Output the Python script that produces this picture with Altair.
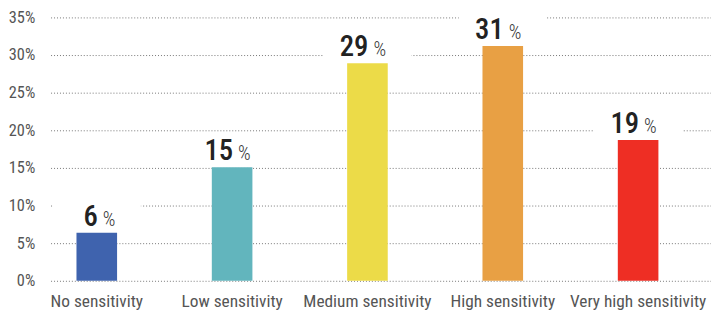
import altair as alt
import pandas as pd

categories = ["No sensitivity", "Low sensitivity", "Medium sensitivity",
              "High sensitivity", "Very high sensitivity"]
values = [6.4, 15.1, 28.9, 31.2, 18.7]
labels = ["6", "15", "29", "31", "19"]
colors = ["#3f63ae", "#62b5bd", "#ecdb48", "#e8a044", "#ee2e24"]
y_ticks = [0, 5, 10, 15, 20, 25, 30, 35]

df = pd.DataFrame({"cat": categories, "value": values, "label": labels, "color": colors})

FONT = "Roboto Condensed, DejaVu Sans Condensed, sans-serif"

x = alt.X("cat:N", sort=categories, title=None,
          scale=alt.Scale(paddingInner=0.7, paddingOuter=0.29, align=0.33),
          axis=alt.Axis(labelAngle=0, labelFont=FONT, labelFontSize=17.5, labelColor="#555555",
                        labelPadding=12, ticks=False, domain=False, labelLimit=300))
y = alt.Y("value:Q", title=None,
          scale=alt.Scale(domain=[0, 35], nice=False),
          axis=alt.Axis(values=y_ticks, labelExpr="datum.value + '%'", labelFont=FONT,
                        labelFontSize=16.5, labelColor="#555555",
                        labelPadding=16, ticks=False, domain=False, grid=True,
                        gridColor="#777777", gridDash=[1, 2], gridWidth=1))

base = alt.Chart(df)

mask = base.mark_bar(color="white", width=89, yOffset=-1, y2Offset=-32).encode(
    x=x, y=y, y2="value:Q")

bars = base.mark_bar().encode(
    x=x, y=y, color=alt.Color("color:N", scale=None))

num = base.mark_text(align="right", baseline="alphabetic", dx=1, dy=-7,
                     font=FONT, fontSize=29, fontWeight=500, color="#222222").encode(
    x=x, y=y, text="label:N")

pct = base.mark_text(align="left", baseline="alphabetic", dx=6, dy=-7,
                     font=FONT, fontSize=20, fontWeight=300, color="#333333").encode(
    x=x, y=y, text=alt.value("%"))

chart = alt.layer(mask, bars, num, pct).properties(
    width=667, height=266,
    padding={"left": 0, "top": 0, "right": 0, "bottom": 0}
).configure_view(stroke=None)

chart.save("out.html", embed_options={"renderer": "svg", "actions": False})
